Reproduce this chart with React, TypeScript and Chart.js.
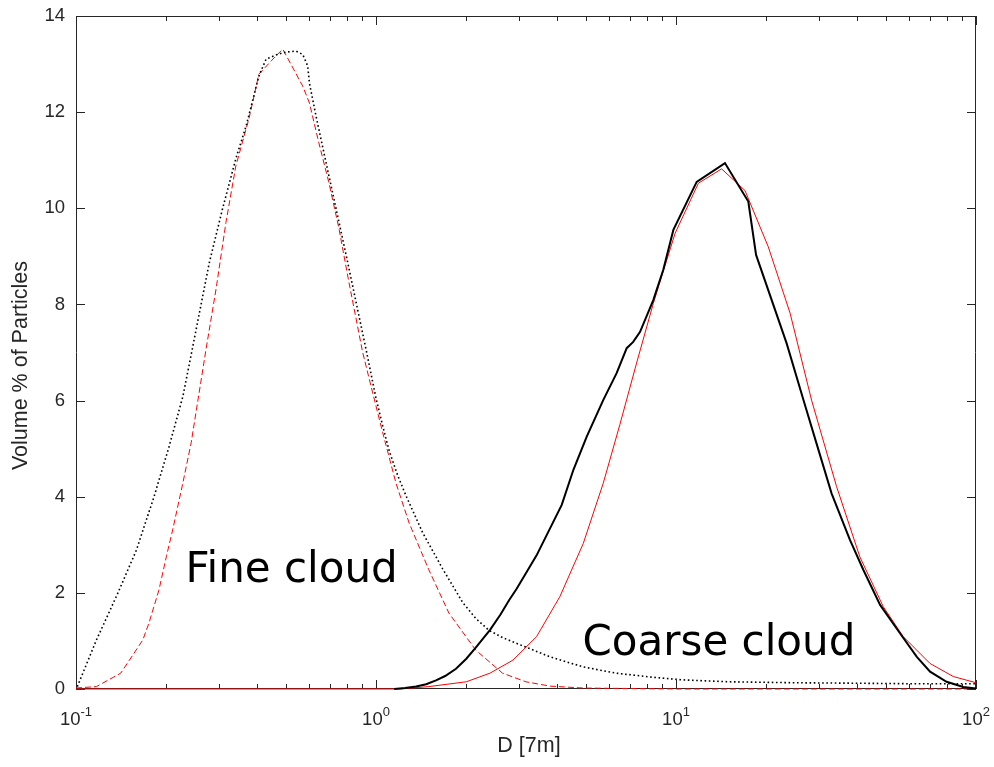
import React, { useEffect, useRef } from 'react';
import { Chart, registerables } from 'chart.js';

Chart.register(...registerables);

// ---- Data ----
const fineMeasuredD = [0.101, 0.117, 0.138, 0.159, 0.182, 0.204, 0.227, 0.242, 0.278, 0.308, 0.341, 0.369, 0.407, 0.43, 0.464, 0.501, 0.541, 0.57, 0.592, 0.6, 0.631, 0.681, 0.736, 0.795, 0.858, 0.926, 1.0, 1.05, 1.107, 1.18, 1.259, 1.431, 1.668, 1.945, 2.15, 2.38, 2.64, 2.94, 3.8, 4.9, 6.3, 8.2, 10.5, 15, 25, 40, 60, 100];
const fineMeasuredV = [0.05, 1.02, 2.0, 2.89, 4.0, 5.03, 6.08, 6.95, 8.86, 9.99, 11.03, 11.71, 12.75, 13.1, 13.19, 13.25, 13.27, 13.2, 12.96, 12.6, 11.92, 10.96, 9.99, 9.03, 8.05, 7.07, 6.05, 5.5, 4.95, 4.45, 4.02, 3.25, 2.5, 1.8, 1.47, 1.22, 1.07, 0.95, 0.67, 0.46, 0.33, 0.25, 0.19, 0.15, 0.13, 0.12, 0.11, 0.11];

const fineFitD = [0.1, 0.117, 0.141, 0.167, 0.175, 0.189, 0.2, 0.21, 0.227, 0.242, 0.255, 0.271, 0.293, 0.316, 0.341, 0.377, 0.407, 0.464, 0.489, 0.57, 0.6, 0.645, 0.697, 0.753, 0.813, 0.903, 0.975, 1.053, 1.166, 1.29, 1.5, 1.75, 2.15, 2.64, 3.16, 3.8, 4.9, 10, 100];
const fineFitV = [0.02, 0.05, 0.33, 1.02, 1.37, 2.06, 2.75, 3.31, 4.28, 5.12, 6.01, 7.05, 8.32, 9.7, 10.88, 11.86, 12.79, 13.17, 13.31, 12.54, 12.19, 11.36, 10.53, 9.57, 8.45, 7.0, 6.16, 5.33, 4.28, 3.45, 2.48, 1.58, 0.81, 0.33, 0.15, 0.06, 0.02, 0, 0];

const coarseMeasuredD = [1.15, 1.25, 1.36, 1.47, 1.585, 1.7, 1.848, 2.0, 2.15, 2.4, 2.6, 2.78, 2.94, 3.16, 3.43, 4.16, 4.55, 5.04, 5.72, 6.34, 6.85, 7.2, 7.59, 8.4, 9.07, 9.8, 11.72, 14.56, 17.42, 18.49, 23.38, 26.6, 29.4, 33.0, 38.0, 42.1, 47.9, 55.8, 63.5, 70.3, 79.8, 90.7, 100];
const coarseMeasuredV = [0, 0.02, 0.05, 0.1, 0.18, 0.27, 0.42, 0.63, 0.86, 1.23, 1.55, 1.85, 2.08, 2.41, 2.78, 3.83, 4.56, 5.25, 6.01, 6.57, 7.09, 7.22, 7.43, 8.09, 8.72, 9.55, 10.55, 10.94, 10.14, 9.03, 7.19, 6.01, 5.11, 4.07, 3.1, 2.48, 1.75, 1.16, 0.67, 0.36, 0.15, 0.04, 0.01];

const coarseFitD = [0.1, 1.2, 1.5, 2.0, 2.4, 2.86, 3.43, 4.1, 4.91, 5.72, 6.5, 7.39, 8.4, 9.93, 11.87, 14.19, 16.98, 20.3, 24.0, 28.3, 34.3, 41.0, 49.1, 57.2, 70.3, 84.0, 100];
const coarseFitV = [0, 0, 0.05, 0.15, 0.33, 0.6, 1.09, 1.92, 3.03, 4.28, 5.5, 6.78, 8.02, 9.48, 10.52, 10.82, 10.37, 9.2, 7.82, 6.01, 4.21, 2.75, 1.71, 1.09, 0.53, 0.26, 0.13];

const xMin = 0.1;
const xMax = 100;
const yMin = 0;
const yMax = 14;
const yStep = 2;
const xDecades = [0.1, 1, 10, 100];
const xDecadeBase = '10';
const xDecadeExponents = ['-1', '0', '1', '2'];
const xAxisTitle = 'D [7m]';
const yAxisTitle = 'Volume % of Particles';
const fineLabel = 'Fine cloud';
const fineLabelAt = { d: 0.523, v: 2.226 };
const coarseLabel = 'Coarse cloud';
const coarseLabelAt = { d: 13.9, v: 0.71 };

const pts = (xs: number[], ys: number[]) => xs.map((x, i) => ({ x, y: ys[i] }));

const AXIS = '#262626';
const TICK_FONT = '"Liberation Sans", Arial, sans-serif';

const framePlugin = {
  id: 'frame',
  beforeDatasetsDraw(chart: any) {
    const { ctx, chartArea, scales } = chart;
    const { left, right, top, bottom } = chartArea;
    const xs = scales.x;
    const ys = scales.y;
    ctx.save();
    ctx.strokeStyle = AXIS;
    ctx.lineWidth = 1;
    ctx.beginPath();
    ctx.rect(left + 0.5, top + 0.5, right - left - 1, bottom - top - 1);
    ctx.stroke();
    ctx.beginPath();
    for (let v = yMin; v <= yMax; v += yStep) {
      const py = Math.round(ys.getPixelForValue(v)) + 0.5;
      ctx.moveTo(left, py); ctx.lineTo(left + 9, py);
      ctx.moveTo(right, py); ctx.lineTo(right - 9, py);
    }
    for (let i = 0; i < xDecades.length; i++) {
      const dec = xDecades[i];
      for (let m = 1; m <= 9; m++) {
        const val = dec * m;
        if (val > xMax * 1.0001) break;
        const px = Math.round(xs.getPixelForValue(val)) + 0.5;
        const len = m === 1 ? 9 : 5;
        ctx.moveTo(px, bottom); ctx.lineTo(px, bottom - len);
        ctx.moveTo(px, top); ctx.lineTo(px, top + len);
      }
    }
    ctx.stroke();

    // decade tick labels 10^n
    ctx.fillStyle = AXIS;
    ctx.textBaseline = 'alphabetic';
    ctx.textAlign = 'left';
    for (let i = 0; i < xDecades.length; i++) {
      const px = xs.getPixelForValue(xDecades[i]);
      ctx.font = '18.5px ' + TICK_FONT;
      const wb = ctx.measureText(xDecadeBase).width;
      ctx.font = '13px ' + TICK_FONT;
      const we = ctx.measureText(xDecadeExponents[i]).width;
      const x0 = px - (wb + we) / 2;
      ctx.font = '18.5px ' + TICK_FONT;
      ctx.fillText(xDecadeBase, x0, bottom + 36);
      ctx.font = '13px ' + TICK_FONT;
      ctx.fillText(xDecadeExponents[i], x0 + wb, bottom + 27);
    }
    ctx.restore();
  },
  afterDatasetsDraw(chart: any) {
    const { ctx, chartArea, scales } = chart;
    const xs = scales.x;
    const ys = scales.y;
    ctx.save();
    ctx.fillStyle = '#000';
    ctx.font = '42px "DejaVu Sans", Verdana, sans-serif';
    ctx.textAlign = 'center';
    ctx.textBaseline = 'alphabetic';
    ctx.fillText(fineLabel, xs.getPixelForValue(fineLabelAt.d), ys.getPixelForValue(fineLabelAt.v));
    ctx.fillText(coarseLabel, xs.getPixelForValue(coarseLabelAt.d), ys.getPixelForValue(coarseLabelAt.v));

    ctx.fillStyle = AXIS;
    ctx.font = '21.5px ' + TICK_FONT;
    ctx.textBaseline = 'middle';
    ctx.fillText(xAxisTitle, (chartArea.left + chartArea.right) / 2 + 3, 746);
    ctx.translate(21, (chartArea.top + chartArea.bottom) / 2 + 13);
    ctx.rotate(-Math.PI / 2);
    ctx.fillText(yAxisTitle, 0, 0);
    ctx.restore();
  },
};

export default function App() {
  const ref = useRef<HTMLCanvasElement>(null);
  useEffect(() => {
    document.body.style.margin = '0';
    const canvas = ref.current!;
    const chart = new Chart(canvas, {
      type: 'line',
      data: {
        datasets: [
          {
            label: 'Fine cloud (measured)',
            data: pts(fineMeasuredD, fineMeasuredV),
            borderColor: '#000',
            borderWidth: 1.6,
            borderDash: [1.6, 2.6],
            pointRadius: 0,
            tension: 0,
            clip: 4,
          },
          {
            label: 'Coarse cloud (measured)',
            data: pts(coarseMeasuredD, coarseMeasuredV),
            borderColor: '#000',
            borderWidth: 2,
            pointRadius: 0,
            tension: 0,
            clip: 4,
          },
          {
            label: 'Fine cloud (fit)',
            data: pts(fineFitD, fineFitV),
            borderColor: '#ff0000',
            borderWidth: 1,
            borderDash: [6, 3],
            pointRadius: 0,
            tension: 0,
            clip: 4,
          },
          {
            label: 'Coarse cloud (fit)',
            data: pts(coarseFitD, coarseFitV),
            borderColor: '#ff0000',
            borderWidth: 1,
            pointRadius: 0,
            tension: 0,
            clip: 4,
          },
        ] as any,
      },
      options: {
        responsive: false,
        animation: false,
        devicePixelRatio: 1,
        layout: { padding: { top: 16, right: 18, left: 0, bottom: 0 } },
        plugins: { legend: { display: false }, tooltip: { enabled: false }, title: { display: false } },
        scales: {
          x: {
            type: 'logarithmic',
            min: xMin,
            max: xMax,
            grid: { display: false, drawTicks: false },
            border: { display: false },
            ticks: { display: false },
            afterFit: (s: any) => {
              s.height = 78;
              s.paddingLeft = 0; s.paddingRight = 0; s.paddingTop = 0; s.paddingBottom = 0;
            },
          },
          y: {
            type: 'linear',
            min: yMin,
            max: yMax,
            grid: { display: false, drawTicks: false },
            border: { display: false },
            ticks: {
              stepSize: yStep,
              padding: 11,
              color: AXIS,
              font: { family: TICK_FONT, size: 18.5 },
            },
            afterFit: (s: any) => {
              s.width = 76;
              s.paddingLeft = 0; s.paddingRight = 0; s.paddingTop = 0; s.paddingBottom = 0;
            },
          },
        },
      } as any,
      plugins: [framePlugin],
    });
    return () => chart.destroy();
  }, []);
  return <canvas ref={ref} width={994} height={767} style={{ display: 'block' }} />;
}
